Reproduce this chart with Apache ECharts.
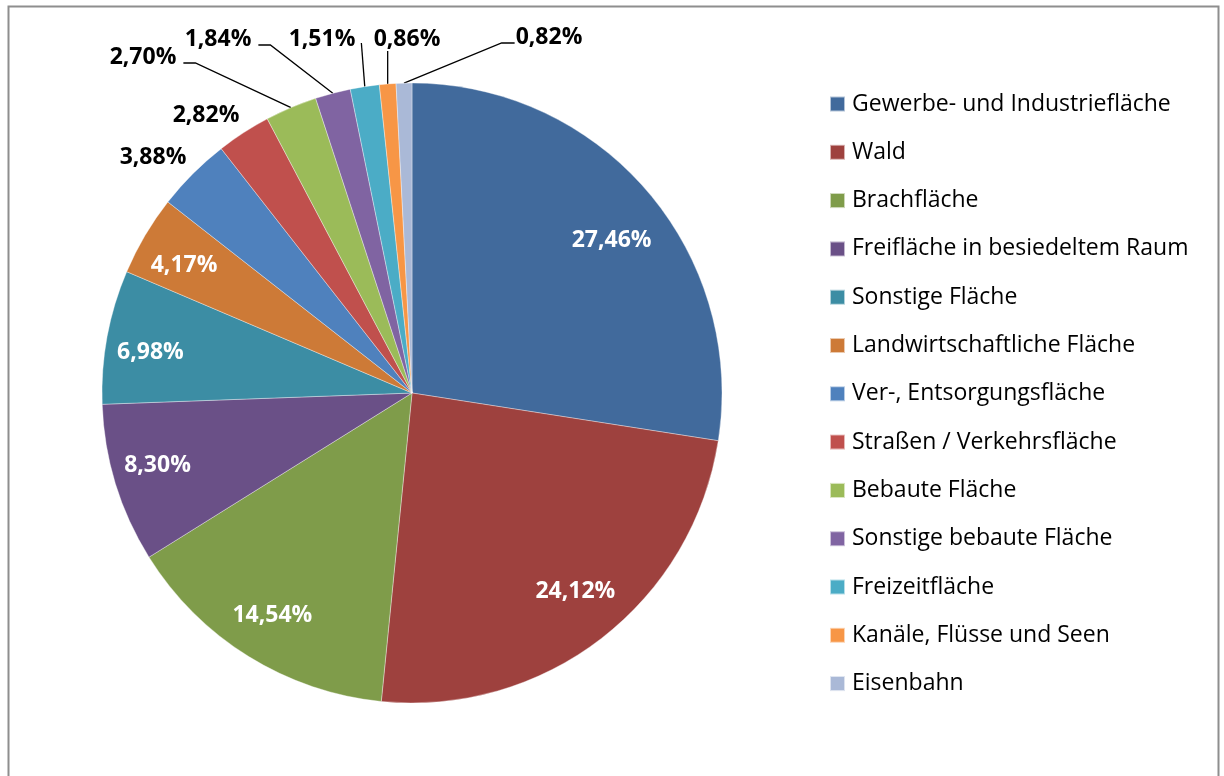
<!DOCTYPE html>
<html>
<head>
<meta charset="utf-8">
<script src="https://cdn.jsdelivr.net/npm/echarts@6/dist/echarts.min.js"></script>
<style>
html,body{margin:0;padding:0;background:#fff;}
#chart{width:1224px;height:776px;}
</style>
</head>
<body>
<div id="chart"></div>
<script>
// ---- data ----
const categories = [
  'Gewerbe- und Industriefläche',
  'Wald',
  'Brachfläche',
  'Freifläche in besiedeltem Raum',
  'Sonstige Fläche',
  'Landwirtschaftliche Fläche',
  'Ver-, Entsorgungsfläche',
  'Straßen / Verkehrsfläche',
  'Bebaute Fläche',
  'Sonstige bebaute Fläche',
  'Freizeitfläche',
  'Kanäle, Flüsse und Seen',
  'Eisenbahn'
];
const values = [27.46, 24.12, 14.54, 8.30, 6.98, 4.17, 3.88, 2.82, 2.70, 1.84, 1.51, 0.86, 0.82];
const colors = ['#416A9C', '#9E413E', '#7F9C4A', '#6A5087', '#3C8DA4', '#CD7A37', '#4F81BD',
                '#C0504D', '#9BBB59', '#8064A2', '#4BACC6', '#F79646', '#AAB9D7'];

// ---- layout ----
const CX = 412, CY = 393, R = 310;
const INSIDE_FACTOR = 0.835;
const FONT = '"Open Sans"';
// small nudges of inside labels (layout only)
const insideNudge = {0: [3, 16], 1: [5, -6], 2: [-3, 3], 3: [-7, -3], 4: [-7, 7], 5: [-5, 4]};
// outside label centres and leader-line style (layout only)
const outsideLayout = {
  6:  {pos: [153, 157], line: null},
  7:  {pos: [206, 115], line: null},
  8:  {pos: [143, 57],  line: 'right-elbow'},
  9:  {pos: [218, 39],  line: 'right-elbow'},
  10: {pos: [322, 39],  line: 'right-straight'},
  11: {pos: [407, 39],  line: 'below'},
  12: {pos: [549, 37],  line: 'left-elbow'}
};

const total = values.reduce((a, b) => a + b, 0);
function midAngle(i) {
  let cum = 0;
  for (let k = 0; k < i; k++) cum += values[k];
  return (cum + values[i] / 2) / total * 2 * Math.PI; // clockwise from top
}
function polar(a, r) {
  return [CX + Math.sin(a) * r, CY - Math.cos(a) * r];
}

const data = categories.map((name, i) => {
  const inside = !(i in outsideLayout);
  const hasLine = !inside && outsideLayout[i].line;
  return {
    name: name,
    value: values[i],
    itemStyle: {color: colors[i]},
    label: {color: inside ? '#fff' : '#000', position: inside ? 'inside' : 'outside'},
    labelLine: {show: !!hasLine}
  };
});

const chart = echarts.init(document.getElementById('chart'), null, {renderer: 'canvas'});
chart.setOption({
  backgroundColor: '#fff',
  animation: false,
  graphic: [{
    type: 'rect',
    shape: {x: 8.5, y: 6.5, width: 1210, height: 820},
    style: {fill: 'none', stroke: '#8e8e8e', lineWidth: 2},
    silent: true, z: -10
  }],
  legend: {
    orient: 'vertical',
    left: 829,
    top: 92,
    padding: 0,
    itemWidth: 15,
    itemHeight: 15,
    itemGap: 24.3,
    icon: 'rect',
    selectedMode: false,
    data: categories,
    textStyle: {fontFamily: FONT, fontSize: 23, color: '#000', lineHeight: 24, padding: [0, 0, 0, 2]}
  },
  series: [{
    type: 'pie',
    center: [CX, CY],
    radius: [0, R],
    startAngle: 90,
    clockwise: true,
    avoidLabelOverlap: false,
    data: data,
    itemStyle: {borderColor: 'rgba(255,255,255,0.6)', borderWidth: 0.6},
    label: {
      show: true,
      fontFamily: FONT,
      fontWeight: 'bold',
      fontSize: 23,
      formatter: p => p.value.toFixed(2).replace('.', ',') + '%'
    },
    labelLine: {lineStyle: {color: '#000', width: 1.3}, length: 10, length2: 10},
    labelLayout: function (p) {
      const i = p.dataIndex;
      const a = midAngle(i);
      if (!(i in outsideLayout)) {
        const pt = polar(a, R * INSIDE_FACTOR);
        const n = insideNudge[i] || [0, 0];
        return {x: pt[0] + n[0], y: pt[1] + n[1], align: 'center', verticalAlign: 'middle'};
      }
      const L = outsideLayout[i];
      const w = p.labelRect.width;
      const cx = L.pos[0], cy = L.pos[1];
      const res = {x: cx, y: cy, align: 'center', verticalAlign: 'middle'};
      const edge = polar(a, R);
      const right = cx + w / 2, left = cx - w / 2;
      if (L.line === 'right-elbow') {
        const s = [right + 7, cy + 6];
        res.labelLinePoints = [s, [s[0] + 12, s[1]], edge];
      } else if (L.line === 'right-straight') {
        const s = [right + 6, cy + 4];
        res.labelLinePoints = [s, s, edge];
      } else if (L.line === 'below') {
        const s = [edge[0], cy + 12];
        res.labelLinePoints = [s, s, edge];
      } else if (L.line === 'left-elbow') {
        const s = [left - 1, cy + 6];
        res.labelLinePoints = [s, [s[0] - 13, s[1]], edge];
      }
      return res;
    },
    emphasis: {disabled: true}
  }]
});
</script>
</body>
</html>
